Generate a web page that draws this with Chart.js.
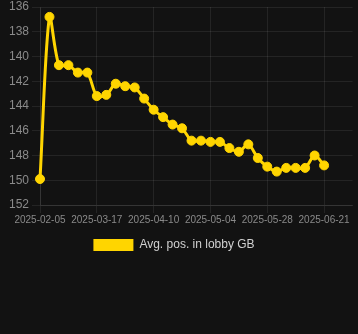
<!DOCTYPE html>
<html>
<head>
<meta charset="utf-8">
<script src="https://cdn.jsdelivr.net/npm/chart.js@4"></script>
<style>
  html, body { margin: 0; padding: 0; background: #121212; }
  #wrap { width: 358px; height: 261px; }
</style>
</head>
<body>
<div id="wrap"><canvas id="lobby"></canvas></div>
<script>
// dates on the x axis (only every 6th is labelled)
const dates = [
  '2025-02-05', '2025-02-25', '2025-03-01', '2025-03-05', '2025-03-09', '2025-03-13',
  '2025-03-17', '2025-03-21', '2025-03-25', '2025-03-29', '2025-04-02', '2025-04-06',
  '2025-04-10', '2025-04-14', '2025-04-18', '2025-04-22', '2025-04-26', '2025-04-30',
  '2025-05-04', '2025-05-08', '2025-05-12', '2025-05-16', '2025-05-20', '2025-05-24',
  '2025-05-28', '2025-06-01', '2025-06-05', '2025-06-09', '2025-06-13', '2025-06-17',
  '2025-06-21', '2025-06-25', '2025-06-29', '2025-07-03'
];

// average position in lobby, lower is better (axis reversed)
const avgPos = [
  149.9, 136.8, 140.7, 140.7, 141.3, 141.3, 143.2, 143.1, 142.2, 142.4,
  142.5, 143.4, 144.3, 144.9, 145.5, 145.8, 146.8, 146.8, 146.9, 146.9,
  147.4, 147.7, 147.1, 148.2, 148.9, 149.3, 149.0, 149.0, 149.0, 148.0,
  148.8, null, null, null
];

const yTicks = [136, 138, 140, 142, 144, 146, 148, 150, 152];

const gold = '#FFD500';
const gridCol = 'rgba(255,255,255,0.08)';

// legend sits a little left of centre in the original
const legendNudge = {
  id: 'legendNudge',
  afterLayout(chart) {
    chart.legend.left -= 5;
    chart.legend.right -= 5;
  }
};

let lobbyChart = new Chart(document.getElementById('lobby'), {
  type: 'line',
  plugins: [legendNudge],
  data: {
    labels: dates,
    datasets: [{
      label: 'Avg. pos. in lobby GB',
      data: avgPos,
      borderColor: gold,
      backgroundColor: gold,
      borderWidth: 3,
      pointRadius: 4.5,
      pointBorderWidth: 1,
      pointBackgroundColor: gold,
      pointBorderColor: gold,
      tension: 0.3
    }]
  },
  options: {
    responsive: true,
    maintainAspectRatio: false,
    animation: false,
    plugins: {
      legend: {
        position: 'bottom',
        labels: {
          color: '#d0d0d0',
          font: { size: 12, family: 'Liberation Sans, Arial, sans-serif' },
          boxWidth: 40,
          boxHeight: 12,
          generateLabels: function(chart) {
            const items = Chart.defaults.plugins.legend.labels.generateLabels(chart);
            items.forEach((it) => { it.lineWidth = 0; });
            return items;
          }
        }
      },
      tooltip: { enabled: false }
    },
    scales: {
      y: {
        reverse: true,
        min: yTicks[0],
        max: yTicks[yTicks.length - 1],
        ticks: {
          stepSize: 2,
          color: '#8a8a8a',
          font: { size: 12, family: 'Liberation Sans, Arial, sans-serif' }
        },
        grid: { color: gridCol },
        border: { color: gridCol },
        afterFit: function(scale) {
          scale.width = 40;
          scale.paddingTop = 7;
          scale.paddingBottom = 6;
        }
      },
      x: {
        ticks: {
          autoSkip: false,
          maxRotation: 0,
          padding: 1,
          color: '#8a8a8a',
          font: { size: 10, family: 'Liberation Sans, Arial, sans-serif' },
          callback: function(v, i) {
            return i % 6 === 0 ? dates[i] : null;
          }
        },
        grid: { color: gridCol },
        border: { color: gridCol },
        afterFit: function(scale) {
          scale.height += 2;
          scale.paddingLeft = 0;
          scale.paddingRight = 0;
        }
      }
    }
  }
});
</script>
</body>
</html>
